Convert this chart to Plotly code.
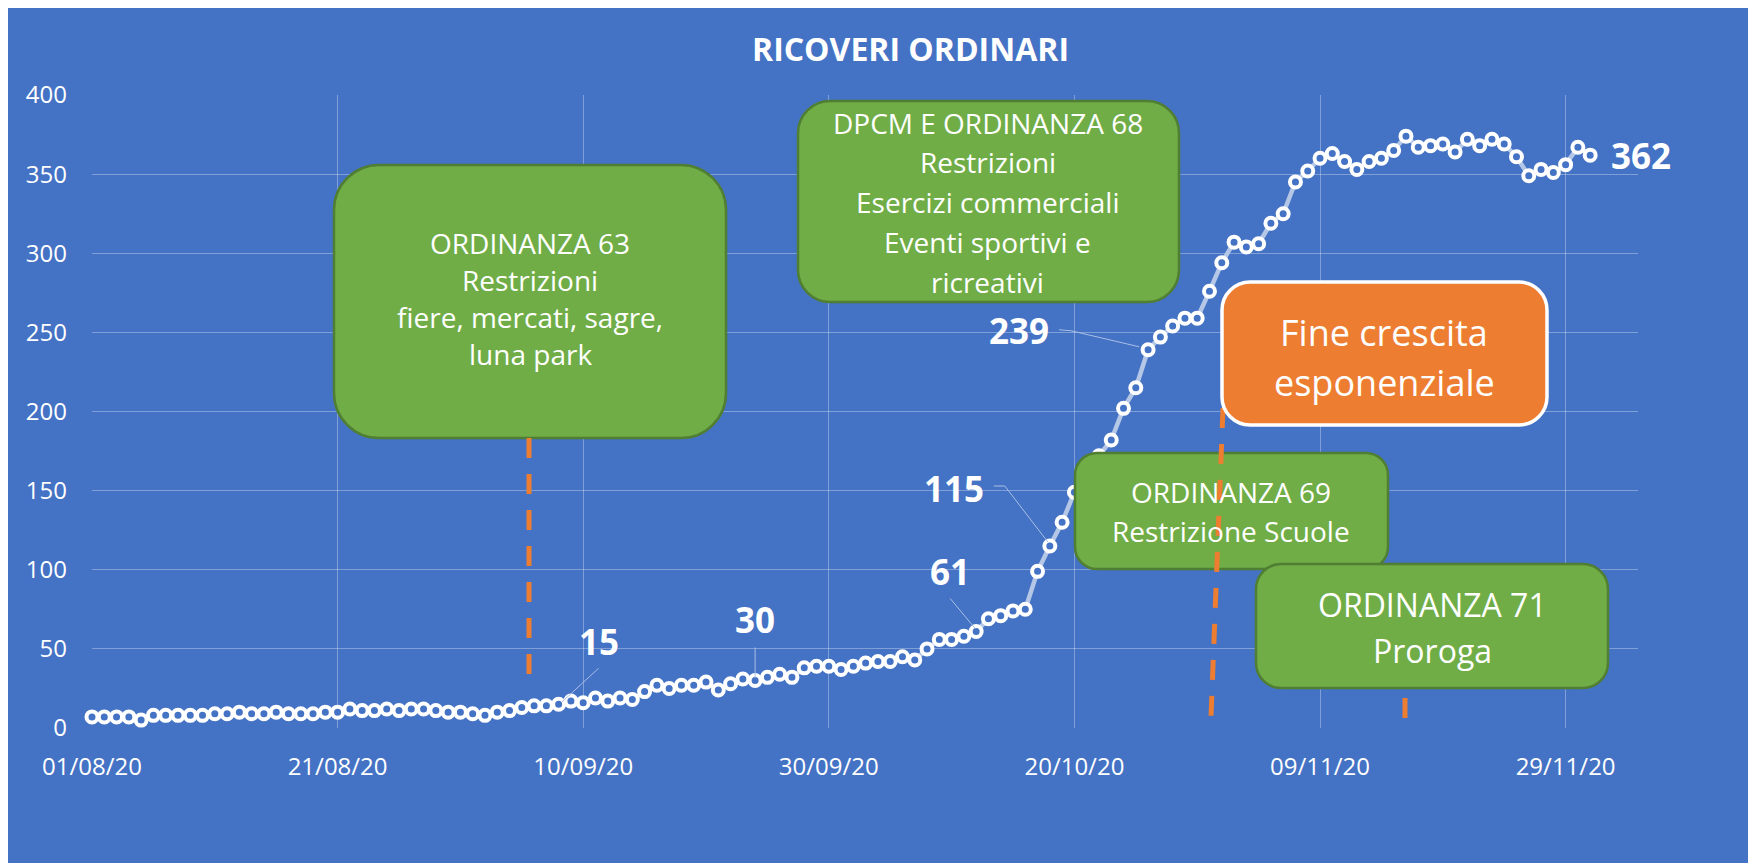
import plotly.graph_objects as go
import pandas as pd

# ---------------- data ----------------
START_DATE = "2020-08-01"
ricoveri = [
    7, 7, 7, 7, 5, 8, 8, 8, 8, 8, 9, 9, 10, 9, 9, 10, 9, 9, 9, 10,
    10, 12, 11, 11, 12, 11, 12, 12, 11, 10, 10, 9, 8, 10, 11, 13, 14, 14, 15, 17,
    16, 19, 17, 19, 18, 23, 27, 25, 27, 27, 29, 24, 28, 31, 30, 32, 34, 32, 38, 39,
    39, 37, 39, 41, 42, 42, 45, 43, 50, 56, 56, 58, 61, 69, 71, 74, 75, 99, 115, 130,
    149, 161, 172, 182, 202, 215, 239, 247, 254, 259, 259, 276, 294, 307, 304, 306, 319, 325, 345, 352,
    360, 363, 358, 353, 358, 360, 365, 374, 367, 368, 369, 364, 372, 368, 372, 369, 361, 349, 353, 351,
    356, 367, 362,
]
dates = pd.date_range(START_DATE, periods=len(ricoveri), freq="D")
labelled_idx = [38, 54, 72, 78, 86, 122]
y_ticks = [0, 50, 100, 150, 200, 250, 300, 350, 400]

TITLE = "RICOVERI ORDINARI"
BOX_TEXTS = {
    "o63": ["ORDINANZA 63", "Restrizioni", "fiere, mercati, sagre,", "luna park"],
    "dpcm": ["DPCM E ORDINANZA 68", "Restrizioni", "Esercizi commerciali", "Eventi sportivi e", "ricreativi"],
    "fine": ["Fine crescita", "esponenziale"],
    "o69": ["ORDINANZA 69", "Restrizione Scuole"],
    "o71": ["ORDINANZA 71", "Proroga"],
}

# ---------------- layout constants (screen pixels) ----------------
FONT = "Open Sans"
BLUE = "#4472C4"
GREEN = "#70AD47"
GREEN_EDGE = "#507E32"
ORANGE = "#ED7D31"
GRID = "rgba(255,255,255,0.32)"
OFF = 8                      # page offset of the figure (body margin)
W, H = 1756 - OFF, 863 - OFF
L, R, T, B = 92, 1638, 95, 728  # plot area in screen px
DAY_PX = 12.28


def px(x):
    return (x - L) / (R - L)


def py(y):
    return (B - y) / (B - T)


def rounded_path(x0, y0, x1, y1, r):
    k = 0.5523 * r
    P = lambda x, y: f"{px(x):.5f},{py(y):.5f}"
    return (
        f"M {P(x0 + r, y0)} L {P(x1 - r, y0)} "
        f"C {P(x1 - r + k, y0)} {P(x1, y0 + r - k)} {P(x1, y0 + r)} "
        f"L {P(x1, y1 - r)} "
        f"C {P(x1, y1 - r + k)} {P(x1 - r + k, y1)} {P(x1 - r, y1)} "
        f"L {P(x0 + r, y1)} "
        f"C {P(x0 + r - k, y1)} {P(x0, y1 - r + k)} {P(x0, y1 - r)} "
        f"L {P(x0, y0 + r)} "
        f"C {P(x0, y0 + r - k)} {P(x0 + r - k, y0)} {P(x0 + r, y0)} Z"
    )


BOXES = [
    dict(key="o63", box=(334, 165, 726, 438), r=45, fill=GREEN, edge=GREEN_EDGE, ew=2.5,
         cx=530, ys=[243, 280, 317, 354], fs=28),
    dict(key="dpcm", box=(798, 101, 1179, 302), r=32, fill=GREEN, edge=GREEN_EDGE, ew=2.5,
         cx=988, ys=[123, 162, 202, 242, 282], fs=28),
    dict(key="o69", box=(1075, 453, 1388, 569), r=22, fill=GREEN, edge=GREEN_EDGE, ew=2.5,
         cx=1231, ys=[492, 531], fs=28),
    dict(key="fine", box=(1222, 282, 1547, 425), r=28, fill=ORANGE, edge="white", ew=3.5,
         cx=1384, ys=[332, 382], fs=36),
    dict(key="o71", box=(1256, 564, 1608, 688), r=25, fill=GREEN, edge=GREEN_EDGE, ew=2.5,
         cx=1432, ys=[604, 650], fs=32),
]
DASH_LINES = {
    "o63": (529, 438, 529, 681),
    "o69": (1223, 408, 1211, 717),
    "o71": (1405, 698, 1405, 720),
}
LABEL_STYLE = {  # index -> (xshift, yshift, leader path in px offsets, y up)
    38: (40, 63, [(40, 36), (3, 2)]),
    54: (0, 61, [(0, 33), (0, 3)]),
    72: (-26, 60, [(-26, 33), (-1, 3)]),
    78: (-96, 58, [(-56, 60), (-45, 60), (-2, 4)]),
    86: (-129, 19, [(-89, 20), (-77, 19), (-9, 3)]),
    122: (51, 0, []),
}

# ---------------- figure ----------------
fig = go.Figure()
fig.add_trace(go.Scatter(
    x=dates, y=ricoveri, mode="lines+markers",
    line=dict(color="#B4C7E7", width=4.5),
    marker=dict(size=11, color=BLUE, line=dict(color="white", width=4)),
    cliponaxis=False, hoverinfo="x+y",
))

x_end = pd.Timestamp(START_DATE) + pd.Timedelta(days=(R - L) / DAY_PX)

fig.update_layout(
    width=W, height=H,
    margin=dict(l=L - OFF, r=W - (R - OFF), t=T - OFF, b=H - (B - OFF), pad=0),
    paper_bgcolor=BLUE, plot_bgcolor=BLUE, showlegend=False,
    font=dict(family=FONT, color="white", size=24),
)
fig.update_xaxes(
    type="date", range=[START_DATE, x_end.strftime("%Y-%m-%d %H:%M")],
    tick0=START_DATE, dtick=20 * 86400000, tickformat="%d/%m/%y",
    showgrid=True, gridcolor=GRID, gridwidth=1, zeroline=False, showline=False,
    ticks="", ticklabelstandoff=22, tickfont=dict(size=24, color="white", family=FONT),
)
fig.update_yaxes(
    range=[0, 400], tickvals=y_ticks,
    showgrid=True, gridcolor=GRID, gridwidth=1, zeroline=False, showline=False,
    ticks="", ticklabelstandoff=24, tickfont=dict(size=24, color="white", family=FONT),
)

# title
fig.add_annotation(x=px(911), y=py(49), xref="paper", yref="paper", text=f"<b>{TITLE}</b>",
                   showarrow=False, xanchor="center", yanchor="middle",
                   font=dict(size=32, color="white", family=FONT))


def add_dash(key):
    x0, y0, x1, y1 = DASH_LINES[key]
    fig.add_shape(type="line", xref="paper", yref="paper", x0=px(x0), y0=py(y0), x1=px(x1), y1=py(y1),
                  line=dict(color=ORANGE, width=5, dash="20px,16px"), layer="above")


def add_box(b):
    x0, y0, x1, y1 = b["box"]
    fig.add_shape(type="path", xref="paper", yref="paper", path=rounded_path(x0, y0, x1, y1, b["r"]),
                  fillcolor=b["fill"], line=dict(color=b["edge"], width=b["ew"]), layer="above")
    for txt, yl in zip(BOX_TEXTS[b["key"]], b["ys"]):
        fig.add_annotation(x=px(b["cx"]), y=py(yl), xref="paper", yref="paper", text=txt,
                           showarrow=False, xanchor="center", yanchor="middle",
                           font=dict(size=b["fs"], color="white", family=FONT))


boxes = {b["key"]: b for b in BOXES}
add_box(boxes["o63"]); add_dash("o63")
add_box(boxes["dpcm"])
add_box(boxes["o69"]); add_dash("o69")
add_box(boxes["fine"])
add_box(boxes["o71"]); add_dash("o71")

# data labels with leader lines
for i in labelled_idx:
    xs, ys, leader = LABEL_STYLE[i]
    d = dates[i].strftime("%Y-%m-%d")
    if leader:
        path = "M " + " L ".join(f"{a},{c}" for a, c in leader)
        fig.add_shape(type="path", xref="x", yref="y", xsizemode="pixel", ysizemode="pixel",
                      xanchor=d, yanchor=ricoveri[i], path=path,
                      line=dict(color="#A9BFE6", width=1), layer="above")
    fig.add_annotation(x=d, y=ricoveri[i], xref="x", yref="y", text=f"<b>{ricoveri[i]}</b>",
                       showarrow=False, xshift=xs, yshift=ys, xanchor="center", yanchor="middle",
                       font=dict(size=35, color="white", family=FONT))

fig.write_html(
    "out.html",
    post_script="document.documentElement.style.overflow='hidden';document.body.style.overflow='hidden';",
)
